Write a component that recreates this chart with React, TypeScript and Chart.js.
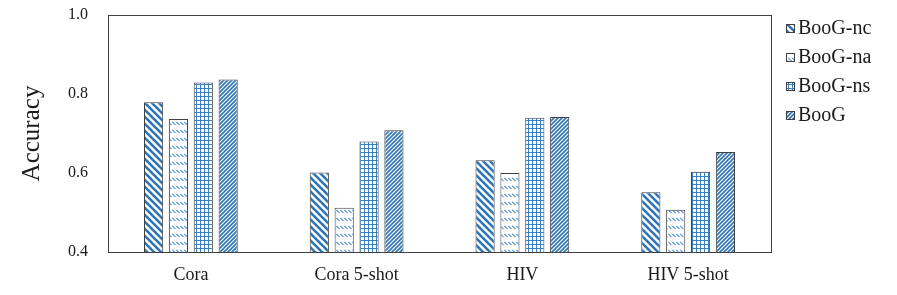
import React, { useEffect, useRef } from "react";
import { Chart, registerables } from "chart.js";

Chart.register(...registerables);

const categories = ["Cora", "Cora 5-shot", "HIV", "HIV 5-shot"];
const seriesNames = ["BooG-nc", "BooG-na", "BooG-ns", "BooG"];
const booGnc = [0.779, 0.601, 0.632, 0.551];
const booGna = [0.737, 0.512, 0.6, 0.507];
const booGns = [0.829, 0.68, 0.74, 0.603];
const booG = [0.837, 0.708, 0.742, 0.653];
const yTicks = [0.4, 0.6, 0.8, 1.0];

const FONT = 'Liberation Serif, "Times New Roman", serif';
const BLUE = "#2E75B6";

function tile(w: number, h: number, draw: (ctx: CanvasRenderingContext2D) => void) {
  const c = document.createElement("canvas");
  c.width = w;
  c.height = h;
  const ctx = c.getContext("2d")!;
  ctx.fillStyle = "#ffffff";
  ctx.fillRect(0, 0, w, h);
  draw(ctx);
  const main = document.createElement("canvas").getContext("2d")!;
  return main.createPattern(c, "repeat") as CanvasPattern;
}

function patterns() {
  const nc = tile(7, 7, (ctx) => {
    ctx.strokeStyle = BLUE;
    ctx.lineWidth = 2.6;
    for (const k of [-7, 0, 7]) {
      ctx.beginPath();
      ctx.moveTo(-1, -1 + k);
      ctx.lineTo(8, 8 + k);
      ctx.stroke();
    }
  });
  const na = tile(4, 8, (ctx) => {
    ctx.strokeStyle = "#5B95D4";
    ctx.lineWidth = 1.1;
    ctx.beginPath();
    ctx.moveTo(0.3, 2);
    ctx.lineTo(3.5, 5.2);
    ctx.stroke();
  });
  const ns = tile(4, 4, (ctx) => {
    ctx.fillStyle = "#3A7FC0";
    ctx.fillRect(0, 0, 4, 1);
    ctx.fillRect(0, 0, 1, 4);
  });
  const bg = tile(4, 4, (ctx) => {
    ctx.strokeStyle = BLUE;
    ctx.lineWidth = 1.6;
    for (const k of [-4, 0, 4]) {
      ctx.beginPath();
      ctx.moveTo(-1 + k, 5);
      ctx.lineTo(5 + k, -1);
      ctx.stroke();
    }
  });
  return [nc, na, ns, bg];
}

export default function App() {
  const ref = useRef<HTMLCanvasElement>(null);
  useEffect(() => {
    const pats = patterns();
    const values = [booGnc, booGna, booGns, booG];
    const framePlugin = {
      id: "frameLegend",
      afterDraw(chart: any) {
        const { ctx, chartArea } = chart;
        ctx.save();
        ctx.strokeStyle = "#404040";
        ctx.lineWidth = 1;
        ctx.strokeRect(
          Math.round(chartArea.left) + 0.5,
          Math.round(chartArea.top) + 0.5,
          Math.round(chartArea.right - chartArea.left),
          Math.round(chartArea.bottom - chartArea.top)
        );
        // legend
        ctx.font = `20px ${FONT}`;
        ctx.textBaseline = "middle";
        ctx.textAlign = "left";
        chart.data.datasets.forEach((ds: any, i: number) => {
          const cy = 28 + i * 29;
          ctx.fillStyle = ds.backgroundColor;
          ctx.fillRect(786, cy - 4, 9, 9);
          ctx.strokeStyle = "#404040";
          ctx.strokeRect(786.5, cy - 3.5, 8, 8);
          ctx.fillStyle = "#1a1a1a";
          ctx.fillText(ds.label, 798, cy + 1);
        });
        ctx.restore();
      },
    };
    const chart = new Chart(ref.current!, {
      type: "bar",
      data: {
        labels: categories,
        datasets: seriesNames.map((name, i) => ({
          label: name,
          data: values[i],
          backgroundColor: pats[i] as any,
          borderColor: "#404040",
          borderWidth: 1,
          categoryPercentage: 0.6,
          barPercentage: 0.77,
        })),
      },
      options: {
        animation: false,
        responsive: false,
        maintainAspectRatio: false,
        layout: { padding: { top: 15, right: 126, left: 0, bottom: 0 } },
        plugins: { legend: { display: false }, tooltip: { enabled: false } },
        scales: {
          x: {
            grid: { display: false, drawTicks: false },
            border: { display: false },
            ticks: { font: { family: FONT, size: 18 }, color: "#1a1a1a", padding: 12 },
            afterFit: (s: any) => {
              s.height = 43;
              s.paddingLeft = 0;
              s.paddingRight = 0;
            },
          },
          y: {
            min: 0.4,
            max: 1.0,
            afterBuildTicks: (s: any) => {
              s.ticks = yTicks.map((v) => ({ value: v }));
            },
            grid: { display: false, drawTicks: false },
            border: { display: false },
            ticks: {
              font: { family: FONT, size: 16 },
              color: "#1a1a1a",
              padding: 20,
              callback: (v: any) => Number(v).toFixed(1),
            },
            title: {
              display: true,
              text: "Accuracy",
              font: { family: FONT, size: 25 },
              color: "#1a1a1a",
              padding: { top: 17, bottom: 0 },
            },
            afterFit: (s: any) => {
              s.width = 108;
              s.paddingTop = 0;
              s.paddingBottom = 0;
            },
          },
        },
      },
      plugins: [framePlugin],
    });
    return () => chart.destroy();
  }, []);
  return (
    <div style={{ position: "fixed", left: 0, top: 0, width: 897, height: 295, background: "#fff" }}>
      <canvas ref={ref} width={897} height={295} style={{ width: 897, height: 295 }} />
    </div>
  );
}
